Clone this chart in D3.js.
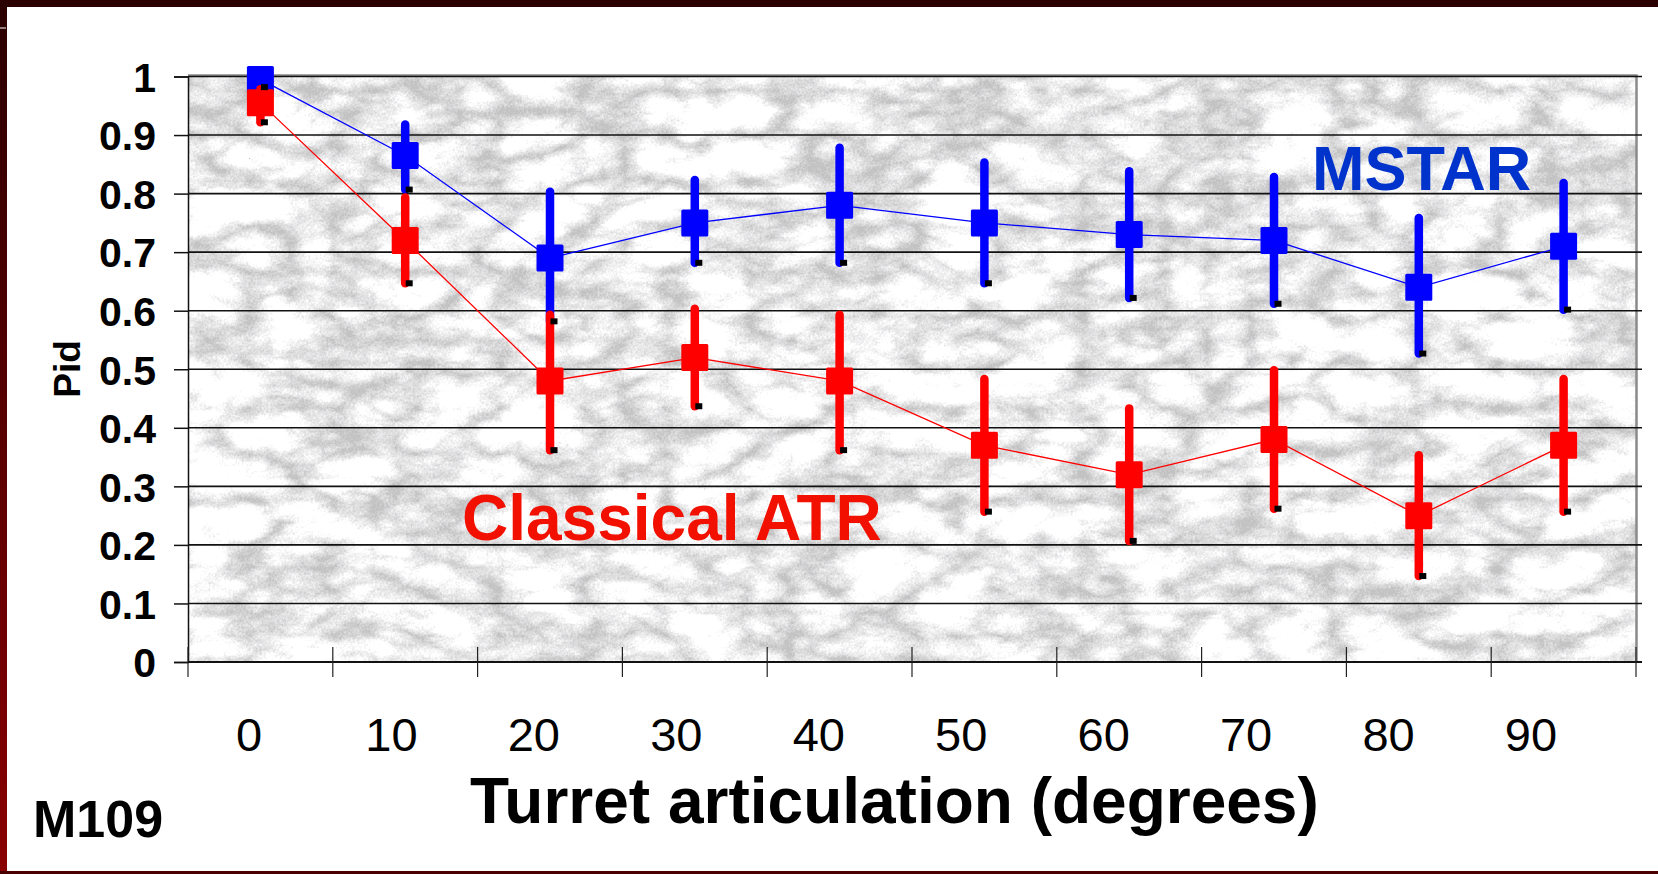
<!DOCTYPE html>
<html>
<head>
<meta charset="utf-8">
<script src="https://cdn.jsdelivr.net/npm/d3@7"></script>
<style>
  body { margin: 0; background: #fff; }
  svg { display: block; }
  text { font-family: "Liberation Sans", Arial, sans-serif; }
</style>
</head>
<body>
<svg width="1658" height="874"></svg>
<script>
var width = 1658, height = 874

// turret angle categories
var angles = [0, 10, 20, 30, 40, 50, 60, 70, 80, 90]
var yTicks = [0, 0.1, 0.2, 0.3, 0.4, 0.5, 0.6, 0.7, 0.8, 0.9, 1]

// MSTAR Pid with error bar ends
var mstar     = [0.995, 0.865, 0.69, 0.75, 0.78, 0.75, 0.73, 0.72, 0.64, 0.71]
var mstarHigh = [1.0, 0.925, 0.81, 0.83, 0.885, 0.86, 0.845, 0.835, 0.765, 0.825]
var mstarLow  = [0.975, 0.80, 0.575, 0.675, 0.675, 0.64, 0.615, 0.605, 0.52, 0.595]

// classical ATR Pid with error bar ends
var classical     = [0.955, 0.72, 0.48, 0.52, 0.48, 0.37, 0.32, 0.38, 0.25, 0.37]
var classicalHigh = [0.985, 0.80, 0.60, 0.61, 0.60, 0.49, 0.44, 0.505, 0.36, 0.49]
var classicalLow  = [0.915, 0.64, 0.355, 0.43, 0.355, 0.25, 0.20, 0.255, 0.14, 0.25]

var plot = {left: 188, right: 1636, top: 76.5, bottom: 662}

var svg = d3.select('svg')
var defs = svg.append('defs')

// frame gradient on the left edge
var grad = defs.append('linearGradient').attr('id', 'frameGrad')
  .attr('x1', 0).attr('y1', 0).attr('x2', 0).attr('y2', 1)
grad.append('stop').attr('offset', '0%').attr('stop-color', '#2a0000')
grad.append('stop').attr('offset', '100%').attr('stop-color', '#8a0000')

// marble-ish texture for the plot area
var gray = '1 0 0 0 0  1 0 0 0 0  1 0 0 0 0  0 0 0 0 1'
var f = defs.append('filter').attr('id', 'marble')
  .attr('x', 0).attr('y', 0).attr('width', '100%').attr('height', '100%')
  .attr('color-interpolation-filters', 'sRGB')
f.append('feTurbulence').attr('type', 'turbulence')
  .attr('baseFrequency', '0.012 0.022').attr('numOctaves', 4).attr('seed', 11).attr('result', 't1')
f.append('feColorMatrix').attr('in', 't1').attr('type', 'matrix').attr('values', gray).attr('result', 'g1')
f.append('feTurbulence').attr('type', 'fractalNoise')
  .attr('baseFrequency', '0.03 0.05').attr('numOctaves', 4).attr('seed', 4).attr('result', 't2')
f.append('feColorMatrix').attr('in', 't2').attr('type', 'matrix').attr('values', gray).attr('result', 'g2')
f.append('feTurbulence').attr('type', 'fractalNoise')
  .attr('baseFrequency', '0.45').attr('numOctaves', 2).attr('seed', 9).attr('result', 't3')
f.append('feColorMatrix').attr('in', 't3').attr('type', 'matrix').attr('values', gray).attr('result', 'g3')
f.append('feComposite').attr('in', 'g1').attr('in2', 'g2').attr('operator', 'arithmetic')
  .attr('k1', 0).attr('k2', 0.6).attr('k3', 0.3).attr('k4', -0.15).attr('result', 'mix')
f.append('feComposite').attr('in', 'mix').attr('in2', 'g3').attr('operator', 'arithmetic')
  .attr('k1', 0).attr('k2', 1).attr('k3', 0.22).attr('k4', -0.11).attr('result', 'mix2')
f.append('feColorMatrix').attr('in', 'mix2').attr('type', 'matrix')
  .attr('values', '0.75 0 0 0 0.76  0.75 0 0 0 0.76  0.75 0 0 0 0.765  0 0 0 0 1')

// page + frame
svg.append('rect').attr('width', width).attr('height', height).attr('fill', '#fff')
svg.append('rect').attr('x', 0).attr('y', 0).attr('width', 7).attr('height', height).attr('fill', 'url(#frameGrad)')
svg.append('rect').attr('x', 0).attr('y', 0).attr('width', width).attr('height', 7).attr('fill', '#2a0000')
svg.append('rect').attr('x', 0).attr('y', height - 3).attr('width', width).attr('height', 3).attr('fill', '#4a0000')
svg.append('line').attr('x1', 0).attr('x2', 6).attr('y1', 28).attr('y2', 28).attr('stroke', '#fff').attr('stroke-width', 1)

var x = d3.scaleBand().domain(angles).range([plot.left, plot.right]).paddingInner(0).paddingOuter(0)
var y = d3.scaleLinear().domain([0, 1]).range([plot.bottom, plot.top])
// tick labels sit a little left of the category centres in the original
var xLabel = d3.scalePoint().domain(angles).range([249, 1531])

function cx(i) { return x(angles[i]) + x.bandwidth() / 2 }

// plot background
svg.append('rect')
  .attr('x', plot.left).attr('y', plot.top)
  .attr('width', plot.right - plot.left).attr('height', plot.bottom - plot.top)
  .attr('fill', '#ddd')
  .attr('filter', 'url(#marble)')

// gray border top and right
svg.append('path')
  .attr('d', 'M' + plot.left + ',' + (plot.top - 1) + 'H' + (plot.right + 0.5) + 'V' + plot.bottom)
  .attr('fill', 'none').attr('stroke', '#8a8a8a').attr('stroke-width', 2.5)

// gridlines
svg.append('g').selectAll('line')
  .data(yTicks.slice(1))
  .join('line')
  .attr('x1', plot.left).attr('x2', plot.right + 6)
  .attr('y1', function(d) { return y(d) }).attr('y2', function(d) { return y(d) })
  .attr('stroke', '#111').attr('stroke-width', 1.6)

// y axis
var yAxis = svg.append('g')
  .attr('transform', 'translate(' + plot.left + ',0)')
  .call(d3.axisLeft(y).tickValues(yTicks).tickSize(14).tickPadding(18)
    .tickFormat(function(d) { return d3.format('')(+d.toFixed(1)) }))
yAxis.select('.domain').attr('stroke', '#111').attr('stroke-width', 1.5)
yAxis.selectAll('.tick line').attr('stroke', '#111').attr('stroke-width', 1.5)
yAxis.selectAll('.tick text')
  .attr('fill', '#000').attr('font-size', 41).attr('font-weight', 'bold')
  .attr('font-family', '"Liberation Sans", Arial, sans-serif')
  .attr('dy', '0.36em')

// x axis line and category boundary ticks
svg.append('line')
  .attr('x1', plot.left).attr('x2', plot.right + 6)
  .attr('y1', plot.bottom).attr('y2', plot.bottom)
  .attr('stroke', '#111').attr('stroke-width', 2)
var bounds = angles.map(function(d) { return x(d) }).concat([plot.right])
svg.append('g').selectAll('line')
  .data(bounds)
  .join('line')
  .attr('x1', function(d) { return d }).attr('x2', function(d) { return d })
  .attr('y1', plot.bottom - 15).attr('y2', plot.bottom + 15)
  .attr('stroke', '#222').attr('stroke-width', 1.2)

svg.append('g').selectAll('text')
  .data(angles)
  .join('text')
  .attr('x', function(d) { return xLabel(d) })
  .attr('y', 751)
  .attr('text-anchor', 'middle')
  .attr('font-size', 47)
  .text(function(d) { return d })

// series
var series = [
  {name: 'MSTAR', color: '#0000ff', v: mstar, hi: mstarHigh, lo: mstarLow},
  {name: 'Classical ATR', color: '#ff0000', v: classical, hi: classicalHigh, lo: classicalLow}
]

var line = d3.line()
  .x(function(d, i) { return cx(i) })
  .y(function(d) { return y(d) })

series.forEach(function(s) {
  var g = svg.append('g')
  g.append('path')
    .attr('d', line(s.v))
    .attr('fill', 'none').attr('stroke', s.color).attr('stroke-width', 1.3)
  g.selectAll('line.err')
    .data(s.v)
    .join('line')
    .attr('class', 'err')
    .attr('x1', function(d, i) { return cx(i) }).attr('x2', function(d, i) { return cx(i) })
    .attr('y1', function(d, i) { return y(s.hi[i]) + 4 })
    .attr('y2', function(d, i) { return y(s.lo[i]) - 4 })
    .attr('stroke', s.color).attr('stroke-width', 8.5).attr('stroke-linecap', 'round')
  g.selectAll('rect.mark')
    .data(s.v)
    .join('rect')
    .attr('class', 'mark')
    .attr('x', function(d, i) { return cx(i) - 13.5 })
    .attr('y', function(d) { return y(d) - 13.5 })
    .attr('width', 27).attr('height', 27).attr('rx', 1.5)
    .attr('fill', s.color)
})

// small black ends at the bottom of each bar
series.forEach(function(s) {
  svg.append('g').selectAll('rect')
    .data(s.lo)
    .join('rect')
    .attr('x', function(d, i) { return cx(i) + 0.5 })
    .attr('y', function(d) { return y(d) - 7 })
    .attr('width', 7).attr('height', 6)
    .attr('fill', '#000')
})

// labels
svg.append('text').attr('x', 1312).attr('y', 190)
  .attr('font-size', 63).attr('font-weight', 'bold').attr('fill', '#0033cc')
  .text('MSTAR')
svg.append('text').attr('x', 462).attr('y', 540)
  .attr('font-size', 64).attr('font-weight', 'bold').attr('fill', '#f21000')
  .text('Classical ATR')

svg.append('text')
  .attr('transform', 'translate(80,369) rotate(-90)')
  .attr('text-anchor', 'middle')
  .attr('font-size', 37).attr('font-weight', 'bold')
  .text('Pid')

svg.append('text').attr('x', 470).attr('y', 823)
  .attr('font-size', 64).attr('font-weight', 'bold')
  .text('Turret articulation (degrees)')

svg.append('text').attr('x', 33).attr('y', 837)
  .attr('font-size', 52).attr('font-weight', 'bold')
  .text('M109')
</script>
</body>
</html>
